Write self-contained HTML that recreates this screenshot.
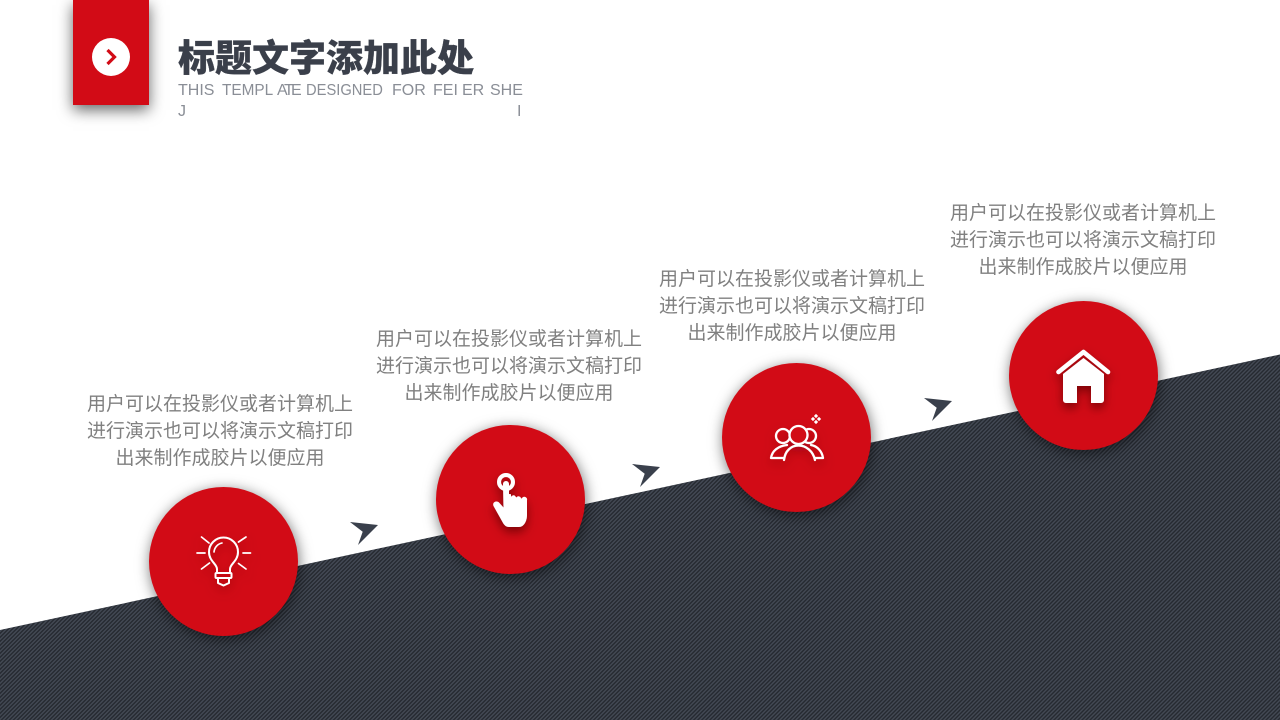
<!DOCTYPE html>
<html lang="zh">
<head>
<meta charset="utf-8">
<style>
html,body{margin:0;padding:0;background:#fff}
body{width:1280px;height:720px;position:relative;overflow:hidden;font-family:"Liberation Sans","Noto Sans CJK SC",sans-serif}
svg.bg{position:absolute;left:0;top:0}
.circle{position:absolute;width:149px;height:149px;border-radius:50%;background:#d20b16;box-shadow:1px 3px 14px rgba(0,0,0,.55)}
.desc{position:absolute;width:300px;text-align:center;font-size:19px;line-height:27px;color:#808080;font-family:"Noto Sans CJK SC",sans-serif;font-weight:400;white-space:nowrap}
.head{position:absolute;left:73px;top:0;width:76px;height:105px;background:#d20b16;box-shadow:0 5px 14px rgba(0,0,0,.6)}
.title{position:absolute;left:178px;top:28px;font-size:37px;line-height:54px;font-weight:900;color:#3a3f4a;font-family:"Noto Sans CJK SC",sans-serif;white-space:nowrap;-webkit-text-stroke:.3px #3a3f4a}
.sub{position:absolute;font-size:16px;line-height:20px;color:#8a8e96;white-space:nowrap;transform-origin:0 50%}
</style>
</head>
<body>
<svg class="bg" width="1280" height="720" viewBox="0 0 1280 720">
<defs>
<pattern id="h" width="2.83" height="2.83" patternUnits="userSpaceOnUse" patternTransform="rotate(-45)">
<rect width="2.83" height="2.83" fill="#434954"/>
<rect width="2.83" height="1.42" fill="#262a31"/>
</pattern>
</defs>
<polygon points="0,630 1280,354.5 1280,720 0,720" fill="url(#h)"/>
<g fill="#3a404c">
<polygon points="350,522 378,525 358,545 362.7,531.7"/>
<polygon points="632,464 660,467 640,487 644.7,473.7"/>
<polygon points="924,398 952,401 932,421 936.7,407.7"/>
</g>
</svg>

<div class="head"></div>
<svg style="position:absolute;left:92px;top:38px" width="38" height="38" viewBox="0 0 38 38">
<circle cx="19" cy="19" r="19" fill="#fff"/>
<polyline points="15.5,12 22.5,19 15.5,26" fill="none" stroke="#d20b16" stroke-width="3.2"/>
</svg>

<div class="title">标题文字添加此处</div>
<div class="sub" style="left:178px;top:81px">THIS</div>
<div class="sub" style="left:222px;top:81px;transform:scaleX(.96)">TEMPL</div>
<div class="sub" style="left:277px;top:81px">A</div>
<div class="sub" style="left:284px;top:81px">T</div>
<div class="sub" style="left:291px;top:81px">E</div>
<div class="sub" style="left:306px;top:81px;transform:scaleX(.92)">DESIGNED</div>
<div class="sub" style="left:392px;top:81px">FOR</div>
<div class="sub" style="left:433px;top:81px">FEI</div>
<div class="sub" style="left:462px;top:81px">ER</div>
<div class="sub" style="left:490px;top:81px">SHE</div>
<div class="sub" style="left:178px;top:102px">J</div>
<div class="sub" style="left:517px;top:102px">I</div>

<div class="desc" style="left:70px;top:389px">用户可以在投影仪或者计算机上<br>进行演示也可以将演示文稿打印<br>出来制作成胶片以便应用</div>
<div class="desc" style="left:359px;top:324px">用户可以在投影仪或者计算机上<br>进行演示也可以将演示文稿打印<br>出来制作成胶片以便应用</div>
<div class="desc" style="left:642px;top:264px">用户可以在投影仪或者计算机上<br>进行演示也可以将演示文稿打印<br>出来制作成胶片以便应用</div>
<div class="desc" style="left:933px;top:198px">用户可以在投影仪或者计算机上<br>进行演示也可以将演示文稿打印<br>出来制作成胶片以便应用</div>

<div class="circle" style="left:149px;top:487px"></div>
<div class="circle" style="left:436px;top:425px"></div>
<div class="circle" style="left:722px;top:363px"></div>
<div class="circle" style="left:1009px;top:301px"></div>

<svg style="position:absolute;left:0;top:0" width="1280" height="720" viewBox="0 0 1280 720">
<defs>
<filter id="s" x="-50%" y="-50%" width="200%" height="200%"><feDropShadow dx="0" dy="5" stdDeviation="5" flood-color="#5a0006" flood-opacity=".7"/></filter>
<filter id="s2" x="-50%" y="-50%" width="200%" height="200%"><feDropShadow dx="0" dy="5" stdDeviation="5" flood-color="#7a0008" flood-opacity=".5"/></filter>
</defs>
<g filter="url(#s2)" fill="none" stroke="#fff" stroke-width="2" stroke-linecap="round" stroke-linejoin="round">
<path d="M217 573 L217 569 C217 564 209 561 209 552 A14.5 14.5 0 0 1 238 552 C238 561 230 564 230 569 L230 573"/>
<path d="M214 552 A10 10 0 0 1 222 543" stroke-width="1.6"/>
<rect x="215.5" y="573" width="16" height="5" rx="1"/>
<path d="M218 578 V583 L223.5 585.5 L229 583 V578"/>
<path d="M197 553 H205 M243 553 H250.5 M201.5 537 L209 543 M246 537 L238.5 542 M201.5 569 L209.5 563 M246 569 L238.5 563.5" stroke-width="1.7"/>
</g>
<g filter="url(#s)" fill="#fff">
<circle cx="506" cy="482" r="7" fill="none" stroke="#fff" stroke-width="4"/>
<path d="M503 484 a3 3 0 0 1 6 0 V494 l2 .2 V497 a2.5 2.5 0 0 1 4.5 -.5 l1 1 a2.5 2.5 0 0 1 4.5 .5 l.6 .8 a2.5 2.5 0 0 1 5.4 1.5 V515 c0 6 -3 12 -8 12 h-10 c-3 0 -5 -2 -6.5 -5 l-9 -16 c-1.5 -3.5 2.5 -6 5.5 -3.5 l4.5 5 Z"/>
</g>
<g filter="url(#s2)" fill="none" stroke="#fff" stroke-width="2.3" stroke-linecap="round" stroke-linejoin="round">
<circle cx="783" cy="436" r="7"/>
<circle cx="809" cy="436" r="7"/>
<circle cx="798.5" cy="435" r="9" fill="#d20b16"/>
<path d="M783 458 H771 C772 451 778 446 787 445"/>
<path d="M811 445 C817 446 822 451 823 458 H815"/>
<path d="M784 460 C785 451 791 445.5 798.5 445.5 C806 445.5 813 451 815 460"/>
</g>
<g fill="#fff">
<rect x="814.500" y="414.500" width="3" height="3" transform="rotate(45 816 416)"/>
<rect x="814.500" y="420.500" width="3" height="3" transform="rotate(45 816 422)"/>
<rect x="811.500" y="417.500" width="3" height="3" transform="rotate(45 813 419)"/>
<rect x="817.500" y="417.500" width="3" height="3" transform="rotate(45 819 419)"/>
</g>
<g filter="url(#s)" fill="#fff">
<path d="M1083.5 358 L1104 374 V400 a3 3 0 0 1 -3 3 H1091 V386 H1077 V403 H1066 a3 3 0 0 1 -3 -3 V374 Z"/>
<path d="M1058.5 372 L1083.5 352 L1108 372" fill="none" stroke="#fff" stroke-width="4.6" stroke-linecap="round" stroke-linejoin="round"/>
</g>
</svg>
</body>
</html>
